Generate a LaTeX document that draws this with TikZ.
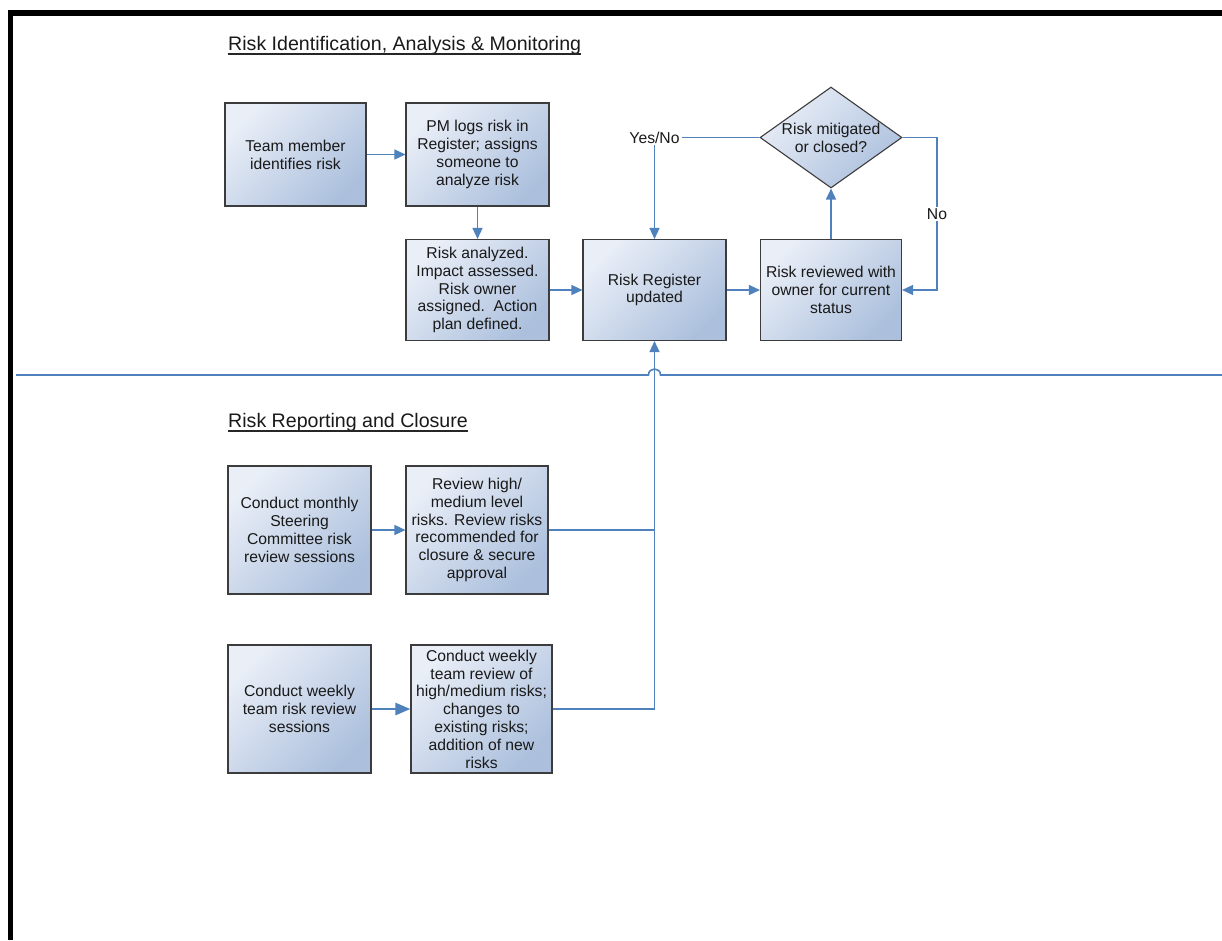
\documentclass[tikz,border=0pt]{standalone}
\usepackage{fontspec}
\setmainfont{Liberation Sans}
\usetikzlibrary{shapes.geometric,arrows.meta}
\definecolor{flowblue}{HTML}{4F81BD}
\definecolor{boxlight}{HTML}{E9EEF7}
\definecolor{boxdark}{HTML}{ACC0DD}
\definecolor{boxedge}{HTML}{3C3C3C}
\begin{document}
\begin{tikzpicture}[x=1pt,y=-1pt,
  every node/.style={font=\fontsize{15.7}{17.8}\selectfont, text=black!90},
  stepbox/.style={rectangle, draw=boxedge, line width=1.1pt,
    top color=boxlight, bottom color=boxdark, shading angle=45,
    align=center, inner sep=1pt},
  decision/.style={diamond, aspect=1.4, draw=boxedge, line width=1.1pt,
    top color=boxlight, bottom color=boxdark, shading angle=45,
    align=center, inner sep=0pt, minimum width=142pt, minimum height=101pt},
  heading/.style={font=\fontsize{19.6}{22}\selectfont, inner sep=0pt, anchor=base west},
  lbl/.style={fill=white, inner sep=1.5pt},
  link/.style={draw=flowblue, line width=1.4pt},
  conn/.style={link, -{Triangle[length=11pt,width=10pt]}},
  bigconn/.style={draw=flowblue, line width=2.6pt, -{Triangle[length=15pt,width=12pt]}}
]
\useasboundingbox (0,0) rectangle (1222,940);

% page frame
\draw[line width=5.5pt, line join=miter] (10.5,940) -- (10.5,13) -- (1222,13);

% section headings
\node[heading] (h1) at (228,50) {Risk Identification, Analysis \& Monitoring};
\draw[line width=1.3pt, black!85] ([yshift=-4pt]h1.base west) -- ([yshift=-4pt]h1.base east);
\node[heading] (h2) at (228,427) {Risk Reporting and Closure};
\draw[line width=1.3pt, black!85] ([yshift=-4pt]h2.base west) -- ([yshift=-4pt]h2.base east);

% divider between the two sections, with a hop over the feedback line
\draw[flowblue, line width=1.6pt] (16,375) -- (648.5,375)
  .. controls (648.5,367) and (660.5,367) .. (660.5,375) -- (1222,375);

% identification and analysis
\node[stepbox, minimum width=141pt, minimum height=103pt] (team) at (295.5,154.5) {Team member\\identifies risk};
\node[stepbox, minimum width=143pt, minimum height=103pt] (pm) at (477.5,154.5) {PM logs risk in\\Register; assigns\\someone to\\analyze risk};
\node[stepbox, minimum width=143pt, minimum height=101pt] (ana) at (477.5,290) {Risk analyzed.\\Impact assessed.\\Risk owner\\assigned.\ \ Action\\plan defined.};
\node[stepbox, minimum width=143pt, minimum height=101pt] (reg) at (654.5,290) {Risk Register\\updated};
\node[stepbox, minimum width=141pt, minimum height=101pt] (rev) at (831,290) {Risk reviewed with\\owner for current\\status};
\node[decision] (dia) at (831,137.5) {Risk mitigated\\or closed?};
\node[inner sep=2pt] (yn) at (654.5,137.5) {Yes/No};
\coordinate (nx) at (937,0);

\draw[conn] (team.east) -- (pm.west);
\draw[conn] (pm.south) -- (ana.north);
\draw[conn] (ana.east) -- (reg.west);
\draw[conn] (reg.east) -- (rev.west);
\draw[conn] (rev.north) -- (dia.south);
\draw[link] (dia.west) -- (yn.east);
\draw[conn] (yn.south) -- (reg.north);
\draw[conn] (dia.east) -- (dia.east -| nx) -- node[lbl] {No} (nx |- rev.east) -- (rev.east);

% reporting and closure
\node[stepbox, minimum width=143pt, minimum height=128pt] (mon) at (299.5,530) {Conduct monthly\\Steering\\Committee risk\\review sessions};
\node[stepbox, minimum width=142pt, minimum height=128pt] (hml) at (477,530) {Review high/\\medium level\\risks. Review risks\\recommended for\\closure \& secure\\approval};
\node[stepbox, minimum width=143pt, minimum height=128pt] (wk) at (299.5,709) {Conduct weekly\\team risk review\\sessions};
\node[stepbox, minimum width=141pt, minimum height=128pt] (wtr) at (481.5,709) {Conduct weekly\\team review of\\high/medium risks;\\changes to\\existing risks;\\addition of new\\risks};

\draw[conn] (mon.east) -- (hml.west);
\draw[link] (hml.east) -- (hml.east -| reg.south);
\draw[bigconn] (wk.east) -- (wtr.west);
\draw[conn] (wtr.east) -| (reg.south);
\end{tikzpicture}
\end{document}
